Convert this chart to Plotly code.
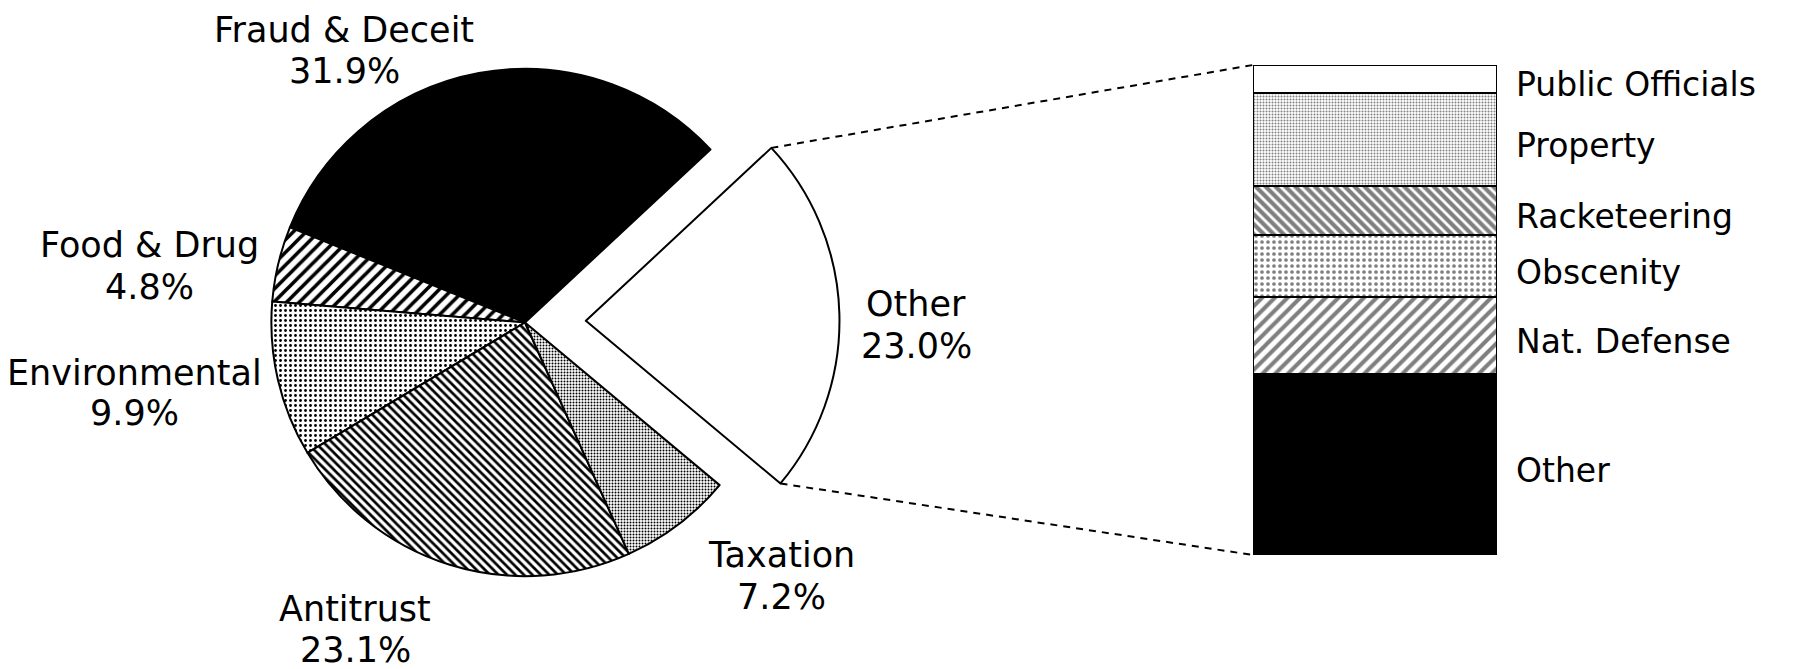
import math
import plotly.graph_objects as go

# ---------------- data ----------------
pie_labels = ["Other", "Fraud & Deceit", "Food & Drug", "Environmental", "Antitrust", "Taxation"]
pie_values = [23.0, 31.9, 4.8, 9.9, 23.1, 7.2]
pie_colors = ["white", "black", "white", "white", "white", "white"]
pie_shapes = ["", "", "/", ".", "\\", "."]
pie_psize = [8, 8, 9, 5, 6, 3]
pie_psolid = [0.3, 0.3, 0.4, 0.25, 0.45, 0.35]
pie_pull = [0.24, 0, 0, 0, 0, 0]

bar_labels = ["Other", "Nat. Defense", "Obscenity", "Racketeering", "Property", "Public Officials"]
bar_values = [8.5, 3.6, 2.9, 2.3, 4.4, 1.3]
bar_colors = ["black", "white", "white", "white", "white", "white"]
bar_shapes = ["", "/", ".", "\\", ".", ""]
bar_psize = [8, 9, 6, 7, 3, 8]
bar_psolid = [0.3, 0.45, 0.3, 0.6, 0.35, 0.3]

# label placement on screen: (x centre, name-line y centre, value-line y centre)
pie_label_pos = {
    "Other": (916, 304, 346),
    "Fraud & Deceit": (344, 30, 71),
    "Food & Drug": (149, 245, 287),
    "Environmental": (134, 373, 413),
    "Antitrust": (355, 609, 650),
    "Taxation": (781, 555, 597),
}

# ---------------- layout geometry ----------------
W, H = 1797, 669
OFF = 8               # page body margin offset
MT, MB = 0, 40
PH = H - MT - MB
ROT = 47
PIE_CX = 525 - OFF
PIE_HALF = 0.19
PIE_DOM_X = [PIE_CX / W - PIE_HALF, PIE_CX / W + PIE_HALF]
BAR_LEFT, BAR_RIGHT, BAR_TOP, BAR_BOT = 1253 - OFF, 1497 - OFF, 65 - OFF, 555 - OFF
BAR_DOM_X = [BAR_LEFT / W, BAR_RIGHT / W]
BAR_DOM_Y = [1 - (BAR_BOT - MT) / PH, 1 - (BAR_TOP - MT) / PH]
FONT = "DejaVu Sans"


def px(x):
    return (x - OFF) / W


def py(y):
    return 1 - (y - OFF - MT) / PH


fig = go.Figure()

fig.add_trace(go.Pie(
    labels=pie_labels,
    values=pie_values,
    sort=False,
    direction="counterclockwise",
    rotation=ROT,
    pull=pie_pull,
    textinfo="none",
    hoverinfo="label+value",
    domain=dict(x=PIE_DOM_X, y=[0, 1]),
    marker=dict(
        colors=pie_colors,
        line=dict(color="black", width=2),
        pattern=dict(shape=pie_shapes, size=pie_psize, solidity=pie_psolid,
                     fgcolor="black"),
    ),
    showlegend=False,
))

for i, (lab, val) in enumerate(zip(bar_labels, bar_values)):
    fig.add_trace(go.Bar(
        x=[0], y=[val], name=lab, width=1,
        marker=dict(color=bar_colors[i], line=dict(color="black", width=2),
                    pattern=dict(shape=bar_shapes[i], size=bar_psize[i],
                                 solidity=bar_psolid[i], fgcolor="black")),
        xaxis="x", yaxis="y", showlegend=False,
    ))

total_bar = sum(bar_values)

# annotations: pie labels (name line and percentage line)
annotations = []
for lab, val in zip(pie_labels, pie_values):
    x, y1, y2 = pie_label_pos[lab]
    for txt, yy in ((lab, y1), (f"{val:.1f}%", y2)):
        annotations.append(dict(
            x=px(x), y=py(yy), xref="paper", yref="paper",
            text=txt, showarrow=False,
            xanchor="center", yanchor="middle", align="center",
            font=dict(family=FONT, size=35, color="black"),
        ))

# bar labels at segment midpoints
cum = 0
for lab, val in zip(bar_labels, bar_values):
    mid = cum + val / 2
    cum += val
    annotations.append(dict(
        x=0.5, y=mid, xref="x", yref="y", xshift=17, yshift=-6,
        text=lab, showarrow=False, xanchor="left", yanchor="middle",
        font=dict(family=FONT, size=33, color="black"),
    ))

# connector lines from exploded slice to bar, computed from pie geometry
r = min((PIE_DOM_X[1] - PIE_DOM_X[0]) * W, PH) / 2 / (1 + max(pie_pull))
cx = W * (PIE_DOM_X[0] + PIE_DOM_X[1]) / 2
cy = MT + PH / 2
tot = sum(pie_values)
a0 = ROT
a1 = ROT + 360 * pie_values[0] / tot
amid = math.radians((a0 + a1) / 2)
ox = cx + pie_pull[0] * r * math.sin(amid)
oy = cy - pie_pull[0] * r * math.cos(amid)
tip_top = (ox + r * math.sin(math.radians(a0)), oy - r * math.cos(math.radians(a0)))
tip_bot = (ox + r * math.sin(math.radians(a1)), oy - r * math.cos(math.radians(a1)))


def fx(x):
    return x / W


def fy(y):
    return 1 - (y - MT) / PH


shapes = [
    dict(type="line", xref="paper", yref="paper",
         x0=fx(tip_top[0]), y0=fy(tip_top[1]), x1=BAR_DOM_X[0], y1=BAR_DOM_Y[1],
         line=dict(color="black", width=2, dash="7px,6px")),
    dict(type="line", xref="paper", yref="paper",
         x0=fx(tip_bot[0]), y0=fy(tip_bot[1]), x1=BAR_DOM_X[0], y1=BAR_DOM_Y[0],
         line=dict(color="black", width=2, dash="7px,6px")),
]

fig.update_layout(
    width=W, height=H,
    margin=dict(l=0, r=0, t=MT, b=MB, pad=0),
    paper_bgcolor="white", plot_bgcolor="white",
    barmode="stack",
    bargap=0,
    xaxis=dict(domain=BAR_DOM_X, range=[-0.5, 0.5], visible=False, fixedrange=True),
    yaxis=dict(domain=BAR_DOM_Y, range=[0, total_bar], visible=False, fixedrange=True),
    annotations=annotations,
    shapes=shapes,
    font=dict(family=FONT, color="black"),
    showlegend=False,
)

fig.write_html("out.html")
